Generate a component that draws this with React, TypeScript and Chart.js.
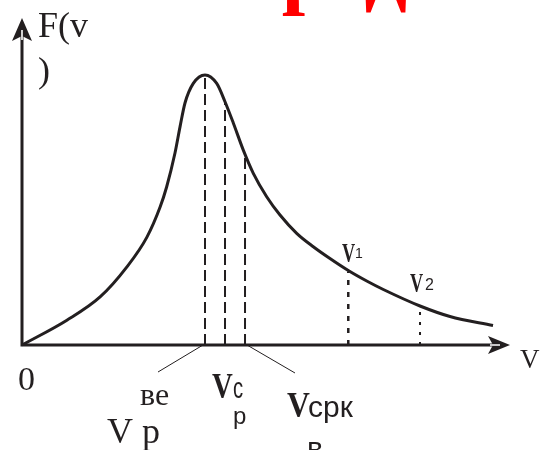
import React, { useEffect, useRef } from "react";
import { Chart, registerables } from "chart.js";

Chart.register(...registerables);

// Curve F(v): speed values and distribution values (axis units: arrow tips at 10)
const curveV = [0, 0.92, 1.6, 2.15, 2.56, 2.83, 2.965, 3.135, 3.238, 3.34, 3.51, 3.75, 3.99, 4.16, 4.33, 4.535, 4.74, 5.014, 5.287, 5.629, 5.969, 6.311, 6.686, 7.064, 7.404, 8.156, 8.77, 9.652];
const curveF = [0, 0.76, 1.47, 2.39, 3.3, 4.22, 4.84, 5.87, 6.67, 7.4, 8.0, 8.26, 8.0, 7.44, 6.79, 5.96, 5.25, 4.535, 3.976, 3.416, 3.006, 2.645, 2.278, 1.957, 1.697, 1.193, 0.872, 0.596];

// Characteristic speeds (dashed): most probable, mean, root-mean-square
const dashedV = [3.75, 4.16, 4.57];
const dashedTop = [8.26, 7.44, 5.85];

// Arbitrary speeds v1, v2 (dotted)
const dottedV = [6.686, 8.156];
const dottedTop = [2.25, 1.17];

const axisMax = 10;
const titleText = "Распределение";

type Lbl = { t: string; x: number; y: number; font: string; sx?: number };
const SERIF = "'Liberation Serif', 'Times New Roman', serif";
const SANS = "'Liberation Sans', Arial, sans-serif";
const labels: Lbl[] = [
  { t: "F(v", x: 0.328, y: 9.42, font: `36px ${SERIF}` },
  { t: ")", x: 0.328, y: 8.04, font: `36px ${SERIF}` },
  { t: "0", x: -0.082, y: -1.376, font: `34px ${SERIF}` },
  { t: "ве", x: 2.418, y: -1.835, font: `32px ${SERIF}` },
  { t: "V p", x: 1.742, y: -2.997, font: `36px ${SERIF}` },
  { t: "V", x: 3.893, y: -1.621, font: `bold 36px ${SERIF}`, sx: 0.8 },
  { t: "с", x: 4.324, y: -1.621, font: `29px ${SANS}`, sx: 0.7 },
  { t: "р", x: 4.324, y: -2.416, font: `24px ${SANS}` },
  { t: "V", x: 5.43, y: -2.202, font: `bold 36px ${SERIF}`, sx: 0.88 },
  { t: "срк", x: 5.861, y: -2.202, font: `30px ${SANS}` },
  { t: "в", x: 5.84, y: -3.456, font: `30px ${SANS}` },
  { t: "V", x: 6.557, y: 2.538, font: `bold 28px ${SERIF}`, sx: 0.65 },
  { t: "1", x: 6.824, y: 2.661, font: `14px ${SANS}` },
  { t: "V", x: 7.951, y: 1.621, font: `bold 28px ${SERIF}`, sx: 0.65 },
  { t: "2", x: 8.258, y: 1.682, font: `16px ${SANS}` },
  { t: "V", x: 10.205, y: -0.703, font: `27px ${SERIF}` },
];

// Leader lines from axis to labels (axis units)
const leaders = [
  [2.787, -0.826, 3.709, 0],
  [4.611, 0, 5.594, -0.856],
];

const INK = "#231f20";

const overlay = {
  id: "overlay",
  afterDatasetsDraw(chart: any) {
    const ctx = chart.ctx as CanvasRenderingContext2D;
    const xs = chart.scales.x;
    const ys = chart.scales.y;
    const px = (v: number) => xs.getPixelForValue(v);
    const py = (v: number) => ys.getPixelForValue(v);
    const ox = px(0), oy = py(0);
    const xt = px(axisMax), yt = py(axisMax);
    ctx.save();
    // axes
    ctx.strokeStyle = INK;
    ctx.fillStyle = INK;
    ctx.lineWidth = 3;
    ctx.lineCap = "butt";
    ctx.setLineDash([]);
    ctx.beginPath();
    ctx.moveTo(ox, oy);
    ctx.lineTo(xt - 12, oy);
    ctx.moveTo(ox, oy + 1.5);
    ctx.lineTo(ox, yt + 12);
    ctx.stroke();
    // x arrowhead
    ctx.beginPath();
    ctx.moveTo(xt, oy);
    ctx.lineTo(xt - 22, oy - 9);
    ctx.lineTo(xt - 17, oy);
    ctx.lineTo(xt - 22, oy + 9);
    ctx.closePath();
    ctx.fill();
    // y arrowhead
    ctx.beginPath();
    ctx.moveTo(ox, yt);
    ctx.lineTo(ox - 10, yt + 23);
    ctx.lineTo(ox, yt + 18);
    ctx.lineTo(ox + 10, yt + 23);
    ctx.closePath();
    ctx.fill();
    // white inner stripes
    ctx.strokeStyle = "#ffffff";
    ctx.lineWidth = 1.6;
    ctx.beginPath();
    ctx.moveTo(xt - 20, oy);
    ctx.lineTo(xt - 10, oy);
    ctx.moveTo(ox, yt + 22);
    ctx.lineTo(ox, yt + 12);
    ctx.stroke();
    // leaders
    ctx.strokeStyle = INK;
    ctx.lineWidth = 1;
    ctx.beginPath();
    for (const [a, b, c, d] of leaders) {
      ctx.moveTo(px(a), py(b));
      ctx.lineTo(px(c), py(d));
    }
    ctx.stroke();
    // labels
    ctx.fillStyle = INK;
    ctx.textBaseline = "alphabetic";
    ctx.textAlign = "left";
    for (const l of labels) {
      ctx.save();
      ctx.font = l.font;
      ctx.textBaseline = "alphabetic";
      ctx.translate(px(l.x), py(l.y));
      ctx.scale(l.sx ?? 1, 1);
      ctx.fillText(l.t, 0, 0);
      ctx.restore();
    }
    // title (cut off at the top of the picture)
    ctx.save();
    ctx.font = `bold 84px ${SERIF}`;
    ctx.fillStyle = "#ff0000";
    ctx.textBaseline = "alphabetic";
    ctx.textAlign = "left";
    const pre = ctx.measureText("Ра").width;
    ctx.fillText(titleText, 196 - pre, -2);
    ctx.restore();
    ctx.restore();
  },
};

export default function App() {
  const ref = useRef<HTMLCanvasElement | null>(null);
  useEffect(() => {
    if (!ref.current) return;
    const datasets: any[] = [
      {
        data: curveV.map((v, i) => ({ x: v, y: curveF[i] })),
        borderColor: INK,
        borderWidth: 3,
        pointRadius: 0,
        showLine: true,
        cubicInterpolationMode: "monotone",
        clip: false,
      },
    ];
    dashedV.forEach((v, i) =>
      datasets.push({
        data: [{ x: v, y: 0 }, { x: v, y: dashedTop[i] }],
        borderColor: INK,
        borderWidth: 2,
        borderDash: [11, 5],
        pointRadius: 0,
        showLine: true,
      })
    );
    dottedV.forEach((v, i) =>
      datasets.push({
        data: [{ x: v, y: 0 }, { x: v, y: dottedTop[i] }],
        borderColor: INK,
        borderWidth: i === 0 ? 2.5 : 2,
        borderDash: i === 0 ? [5, 7] : [3, 7],
        pointRadius: 0,
        showLine: true,
      })
    );
    const chart = new Chart(ref.current, {
      type: "scatter",
      data: { datasets },
      options: {
        animation: false,
        responsive: false,
        devicePixelRatio: 1,
        layout: { padding: { left: 22, top: 18, right: 33, bottom: 105 } },
        plugins: { legend: { display: false }, tooltip: { enabled: false }, title: { display: false } },
        scales: {
          x: { type: "linear", min: 0, max: axisMax, display: false },
          y: { type: "linear", min: 0, max: axisMax, display: false },
        },
      },
      plugins: [overlay],
    } as any);
    return () => chart.destroy();
  }, []);
  return (
    <div style={{ position: "fixed", left: 0, top: 0, width: 543, height: 450, background: "#fff" }}>
      <canvas ref={ref} width={543} height={450} style={{ display: "block", width: 543, height: 450 }} />
    </div>
  );
}
